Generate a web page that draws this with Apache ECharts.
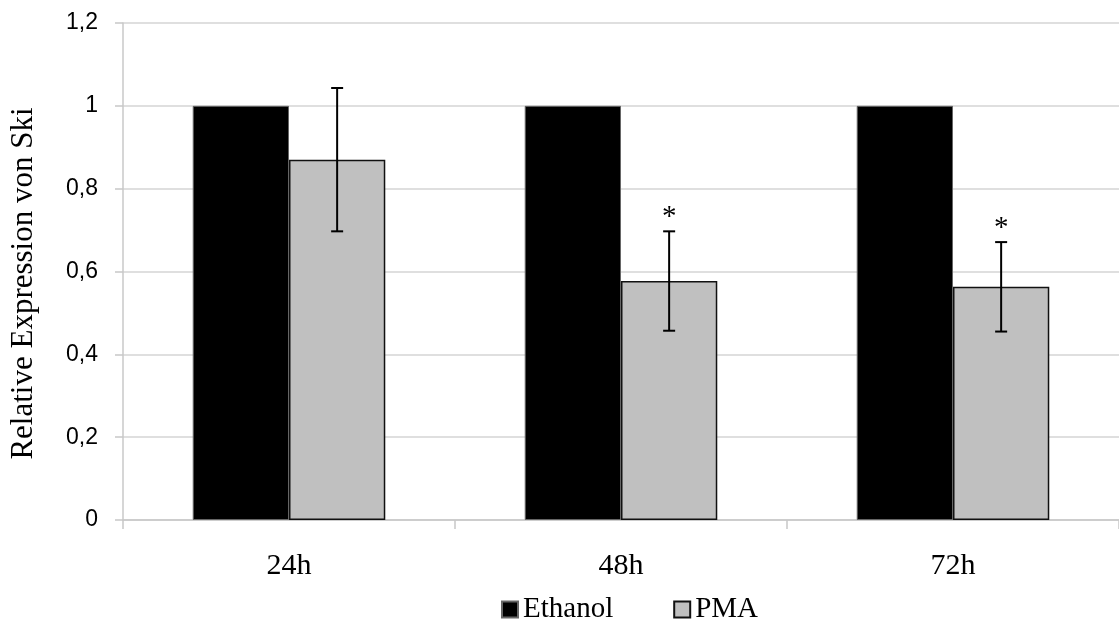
<!DOCTYPE html>
<html><head><meta charset="utf-8">
<script src="https://cdn.jsdelivr.net/npm/echarts@6/dist/echarts.min.js"></script>
<style>html,body{margin:0;padding:0;background:#fff}#c{width:1119px;height:620px}</style>
</head><body><div id="c"></div>
<script>
const categories = ['24h', '48h', '72h'];
const ethanol = [1, 1, 1];
const pma = [0.87, 0.577, 0.563];
const pmaError = [0.173, 0.12, 0.108];
const significance = ['', '*', '*'];
const yAxisTitle = 'Relative Expression von Ski';

const SERIF = '"Liberation Serif", "Times New Roman", serif';
const SANS = '"Liberation Sans", Arial, sans-serif';
const CAT_GAP = 0.42;

const chart = echarts.init(document.getElementById('c'));
chart.setOption({
  animation: false,
  backgroundColor: '#fff',
  grid: { left: 122, right: -2, top: 23, bottom: 100 },
  legend: {
    data: ['Ethanol', 'PMA'],
    left: 496, top: 590,
    itemWidth: 16, itemHeight: 16, itemGap: 60,
    icon: 'rect',
    textStyle: { fontFamily: SERIF, fontSize: 29, color: '#000' }
  },
  xAxis: {
    type: 'category',
    data: categories,
    axisLine: { lineStyle: { color: '#c8c8c8', width: 1.5 } },
    axisTick: { show: true, length: 9, lineStyle: { color: '#c8c8c8', width: 1.5 } },
    axisLabel: { fontFamily: SERIF, fontSize: 30, color: '#000', margin: 31 }
  },
  yAxis: {
    type: 'value',
    min: 0, max: 1.2, interval: 0.2,
    name: yAxisTitle,
    nameLocation: 'middle',
    nameRotate: 90,
    nameGap: 84,
    nameTextStyle: { fontFamily: SERIF, fontSize: 31, color: '#000', padding: [0, 24, 0, 0] },
    axisLine: { show: true, lineStyle: { color: '#c8c8c8', width: 1.5 } },
    axisTick: { show: true, length: 8, lineStyle: { color: '#c8c8c8', width: 1.5 } },
    splitLine: { lineStyle: { color: '#d4d4d4', width: 1.5 } },
    axisLabel: {
      fontFamily: SANS, fontSize: 23, color: '#000', margin: 25,
      formatter: v => String(Math.round(v * 10) / 10).replace('.', ',')
    }
  },
  series: [
    {
      name: 'Ethanol', type: 'bar', data: ethanol,
      barGap: '0%', barCategoryGap: (CAT_GAP * 100) + '%',
      itemStyle: { color: '#000', borderColor: '#666', borderWidth: 1 }
    },
    {
      name: 'PMA', type: 'bar', data: pma,
      itemStyle: { color: '#c0c0c0', borderColor: '#111', borderWidth: 1.5 }
    },
    {
      name: 'PMA error', type: 'custom', z: 5,
      data: categories.map((c, i) => [i, pma[i], pmaError[i]]),
      encode: { x: 0, y: 1 },
      renderItem: function (params, api) {
        const i = api.value(0), v = api.value(1), e = api.value(2);
        const band = api.size([1, 0])[0];
        const barW = band * (1 - CAT_GAP) / 2;
        const c = api.coord([i, v]);
        const x = c[0] + barW / 2;
        const top = api.coord([i, v + e])[1];
        const bot = api.coord([i, v - e])[1];
        const cap = 6;
        const style = { stroke: '#000', lineWidth: 2 };
        const children = [
          { type: 'line', shape: { x1: x, y1: top, x2: x, y2: bot }, style: style },
          { type: 'line', shape: { x1: x - cap, y1: top, x2: x + cap, y2: top }, style: style },
          { type: 'line', shape: { x1: x - cap, y1: bot, x2: x + cap, y2: bot }, style: style }
        ];
        const s = significance[params.dataIndex];
        if (s) {
          children.push({
            type: 'text',
            style: { text: s, x: x, y: top - 14, align: 'center', verticalAlign: 'middle',
              font: '29px ' + SERIF, fill: '#000' }
          });
        }
        return { type: 'group', children: children };
      }
    }
  ]
});
</script>
</body></html>
